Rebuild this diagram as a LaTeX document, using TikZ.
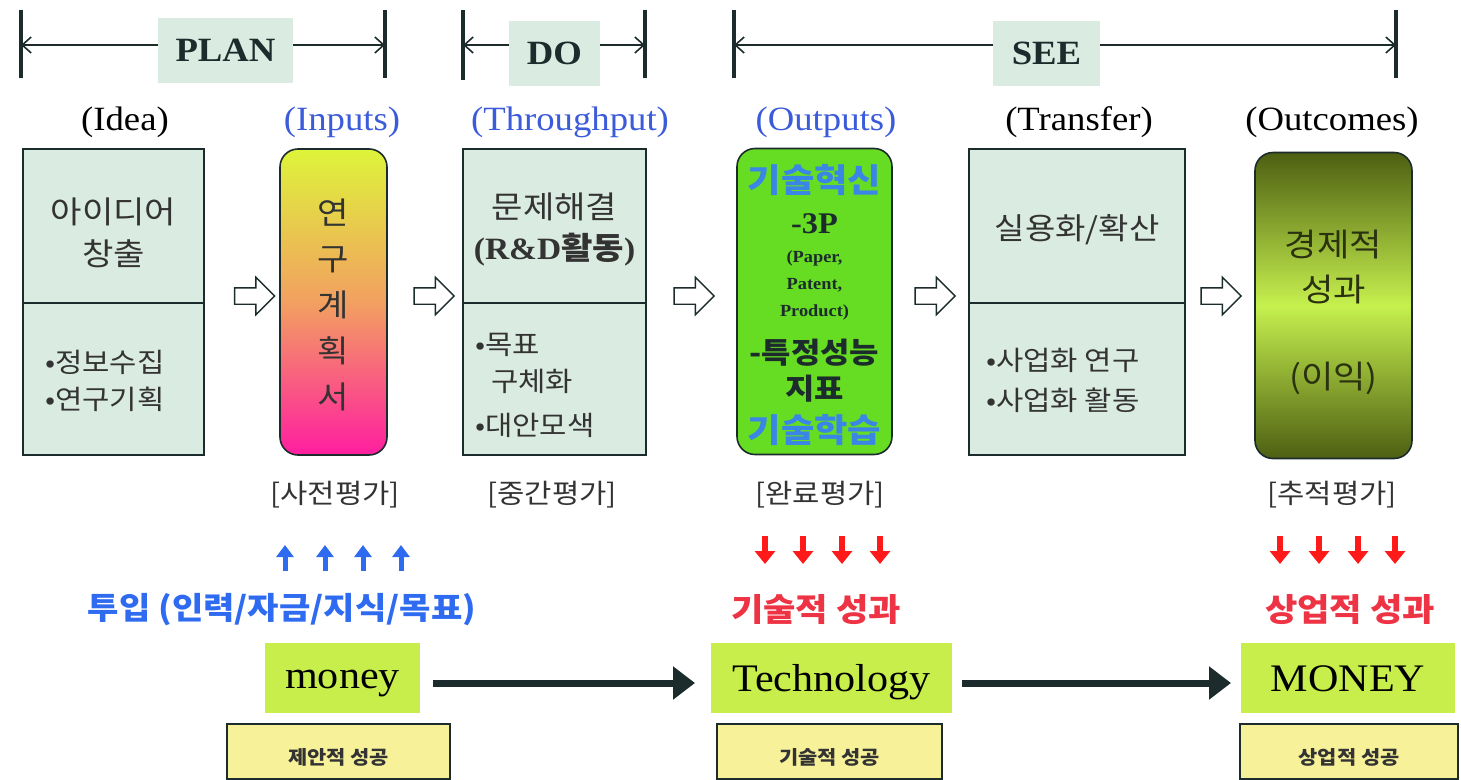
\documentclass[tikz,border=0pt]{standalone}
\usepackage{fontspec}
\setmainfont{Liberation Serif}[FakeStretch=1.08]
\newfontfamily\kr{Noto Sans CJK KR}[FakeStretch=1.1]
\usetikzlibrary{arrows.meta,shapes.arrows}
\definecolor{mint}{HTML}{DAEBE1}
\definecolor{ink}{HTML}{1C2B2B}
\definecolor{txt}{HTML}{333333}
\definecolor{lblue}{HTML}{3B5BDB}
\definecolor{obl}{HTML}{3A86E6}
\definecolor{tblue}{HTML}{2F6BF0}
\definecolor{rtxt}{HTML}{EE3344}
\definecolor{rarr}{HTML}{FF1A1A}
\definecolor{lime}{HTML}{C8EE4C}
\definecolor{ylw}{HTML}{F7F29A}
\definecolor{outg}{HTML}{66DD22}
\definecolor{olivedk}{HTML}{4D5F12}
\definecolor{olivelt}{HTML}{C6F04E}
\definecolor{otxt}{HTML}{2A3210}
\newcommand{\fsz}[1]{\fontsize{#1}{#1}\selectfont}
\newcommand{\low}[2]{\raisebox{-#1}[0pt][0pt]{#2}}
\begin{document}
\begin{tikzpicture}[x=1pt,y=-1pt,
  every node/.style={inner sep=0pt,outer sep=0pt},
  phase/.style={fill=mint,minimum width=#1,minimum height=65,font=\bfseries\fsz{34},text=ink},
  tick/.style={line width=4pt,ink},
  bar/.style={line width=1.6pt,ink,-{Straight Barb[length=9pt,width=16pt]}},
  hdr/.style={font=\fsz{34},text=#1},
  mbox/.style={draw=ink,line width=1.6pt,fill=mint,minimum width=#1,minimum height=306},
  rbox/.style={draw=ink,line width=1.6pt,rounded corners=18pt,minimum height=306,minimum width=#1},
  hollow/.style={single arrow,draw=ink,line width=1.4pt,fill=white,minimum height=40,
    single arrow head extend=10.5pt,single arrow head indent=0pt,inner sep=0pt},
  ktxt/.style={font=\kr\fsz{#1},text=txt},
  evl/.style={font=\kr\fsz{27},text=txt},
  uparr/.style={line width=5pt,tblue,-{Triangle[length=12pt,width=17pt]}},
  dnarr/.style={line width=5.5pt,rarr,-{Triangle[length=13pt,width=20pt]}},
  gbox/.style={fill=lime,minimum width=#1,minimum height=70,font=\fsz{39},text=black},
  ybox/.style={fill=ylw,draw=ink,line width=2pt,minimum width=#1,minimum height=55,font=\kr\bfseries\fsz{19},text=txt},
  big/.style={line width=7pt,ink,-{Triangle[length=22pt,width=32pt]}}
]
\useasboundingbox (0,0) rectangle (1461,779);

% ---------- phase bars ----------
\coordinate (barY) at (0,45);
\coordinate (pL1) at (21,10);   \coordinate (pL2) at (21,78);
\coordinate (pR1) at (385,10);  \coordinate (pR2) at (385,78);
\coordinate (dL1) at (463,10);  \coordinate (dL2) at (463,80);
\coordinate (dR1) at (645,10);  \coordinate (dR2) at (645,78);
\coordinate (sL1) at (734,10);  \coordinate (sL2) at (734,78);
\coordinate (sR1) at (1396,10); \coordinate (sR2) at (1396,78);
\foreach \a/\b in {pL1/pL2,pR1/pR2,dL1/dL2,dR1/dR2,sL1/sL2,sR1/sR2}
  \draw[tick] (\a) -- (\b);
\node[phase=135] (plan) at (225.5,50) {PLAN};
\node[phase=91]  (do)   at (554.5,53.5) {DO};
\node[phase=107] (see)  at (1046.5,53.5) {SEE};
\draw[bar] (plan.west |- barY) -- (pL1 |- barY);
\draw[bar] (plan.east |- barY) -- (pR1 |- barY);
\draw[bar] (do.west |- barY) -- (dL1 |- barY);
\draw[bar] (do.east |- barY) -- (dR1 |- barY);
\draw[bar] (see.west |- barY) -- (sL1 |- barY);
\draw[bar] (see.east |- barY) -- (sR1 |- barY);

% ---------- headers ----------
\node[hdr=black] (hIdea) at (125,122) {(Idea)};
\node[hdr=lblue] (hIn)   at (342,122) {(Inputs)};
\node[hdr=lblue] (hThr)  at (570,122) {(Throughput)};
\node[hdr=lblue] (hOut)  at (826,122) {(Outputs)};
\node[hdr=black] (hTr)   at (1079,122) {(Transfer)};
\node[hdr=black] (hOc)   at (1332,122) {(Outcomes)};

% ---------- main boxes ----------
\node[mbox=181] (idea) at (113.5,302) {};
\draw[line width=1.6pt,ink] (idea.west |- 0,303) -- (idea.east |- 0,303);
\node[ktxt=31] (ideaA) at (113.5,212) {아이디어};
\node[ktxt=31] (ideaB) at (113.5,254) {창출};
\node[ktxt=27,anchor=west] (ideaC) at (45,362) {•정보수집};
\node[ktxt=27,anchor=west] (ideaD) at (45,399) {•연구기획};

\node[rbox=107,top color={rgb,255:red,222;green,244;blue,58},bottom color={rgb,255:red,255;green,30;blue,160},
      middle color={rgb,255:red,242;green,160;blue,96}] (inp) at (333.5,302) {};
\node[font=\kr\fontsize{31}{46}\selectfont,text=txt,align=center] (inpT) at (333.5,304.5)
  {연\\구\\계\\획\\서};

\node[mbox=183] (thr) at (554.5,302) {};
\draw[line width=1.6pt,ink] (thr.west |- 0,303) -- (thr.east |- 0,303);
\node[ktxt=31] (thrA) at (554.5,207) {문제해결};
\node[font=\fsz{31},text=txt] (thrB) at (554.5,250) {\bfseries(R\&D{\kr\bfseries 활동})};
\node[ktxt=27,anchor=west] (thrC) at (475,345) {•목표};
\node[ktxt=27,anchor=west] (thrD) at (491,381) {구체화};
\node[ktxt=27,anchor=west] (thrE) at (475,425) {•대안모색};

\node[rbox=155,fill=outg] (out) at (814.5,301.5) {};
\node[font=\kr\bfseries\fsz{33},text=obl] (outA) at (814.5,180) {기술혁신};
\node[font=\bfseries\fsz{30},text=ink] (outB) at (814.5,224) {-3P};
\node[font=\bfseries\fsz{17},text=ink] (outC) at (814.5,258) {(Paper,};
\node[font=\bfseries\fsz{17},text=ink] (outD) at (814.5,285) {Patent,};
\node[font=\bfseries\fsz{17},text=ink] (outE) at (814.5,312) {Product)};
\node[font=\kr\bfseries\fsz{29},text=ink] (outF) at (814.5,353) {-특정성능};
\node[font=\kr\bfseries\fsz{29},text=ink] (outG) at (814.5,389) {지표};
\node[font=\kr\bfseries\fsz{33},text=obl] (outH) at (814.5,430) {기술학습};

\node[mbox=216] (tra) at (1077,302) {};
\draw[line width=1.6pt,ink] (tra.west |- 0,303) -- (tra.east |- 0,303);
\node[ktxt=30] (traA) at (1077,230) {실용화/확산};
\node[ktxt=27,anchor=west] (traB) at (986,360) {•사업화 연구};
\node[ktxt=27,anchor=west] (traC) at (986,400) {•사업화 활동};

\node[rbox=157,top color=olivedk,bottom color=olivedk,middle color=olivelt] (oc) at (1333.5,305.5) {};
\node[font=\kr\fsz{32},text=otxt] (ocA) at (1333.5,245) {경제적};
\node[font=\kr\fsz{32},text=otxt] (ocB) at (1333.5,290) {성과};
\node[font=\kr\fsz{32},text=otxt] (ocC) at (1333.5,378) {(이익)};

% ---------- hollow arrows ----------
\node[hollow] (ha1) at (250.5,296) {\rule{0pt}{15pt}};
\node[hollow] (ha2) at (430,296) {\rule{0pt}{15pt}};
\node[hollow] (ha3) at (690,296) {\rule{0pt}{15pt}};
\node[hollow] (ha4) at (931,296) {\rule{0pt}{15pt}};
\node[hollow] (ha5) at (1217,296) {\rule{0pt}{15pt}};

% ---------- evaluation labels ----------
\node[evl] (e1) at (335,495) {[사전평가]};
\node[evl] (e2) at (552,495) {[중간평가]};
\node[evl] (e3) at (820,495) {[완료평가]};
\node[evl] (e4) at (1332,495) {[추적평가]};

% ---------- small arrows ----------
\foreach \x [count=\i] in {285,325,363,401}{
  \coordinate (ua\i) at (\x,571); \coordinate (ub\i) at (\x,545);
  \draw[uparr] (ua\i) -- (ub\i);}
\foreach \x [count=\i] in {765,803,842,880,1280,1319,1358,1395}{
  \coordinate (da\i) at (\x,536); \coordinate (db\i) at (\x,564);
  \draw[dnarr] (da\i) -- (db\i);}

\node[font=\kr\bfseries\fsz{31},text=tblue] (inT) at (282,610) {투입 (인력/자금/지식/목표)};
\node[font=\kr\bfseries\fsz{32},text=rtxt] (tecT) at (816,610) {기술적 성과};
\node[font=\kr\bfseries\fsz{32},text=rtxt] (comT) at (1350,610) {상업적 성과};

% ---------- bottom row ----------
\node[gbox=155] (money) at (342.5,678) {\low{10pt}{money}};
\node[gbox=241] (tech)  at (831.5,678) {\low{13pt}{Technology}};
\node[gbox=214] (MON)   at (1348,678) {\low{13pt}{MONEY}};
\draw[big,shorten <=13pt,shorten >=16pt] ([yshift=-5pt]money.east) -- ([yshift=-5pt]tech.west);
\draw[big,shorten <=10pt,shorten >=10pt] ([yshift=-5pt]tech.east) -- ([yshift=-5pt]MON.west);

\node[ybox=223] (y1) at (338.5,751.5) {\low{13pt}{제안적 성공}};
\node[ybox=225] (y2) at (829.5,751.5) {\low{13pt}{기술적 성공}};
\node[ybox=218] (y3) at (1349,751.5) {\low{13pt}{상업적 성공}};
\end{tikzpicture}
\end{document}
